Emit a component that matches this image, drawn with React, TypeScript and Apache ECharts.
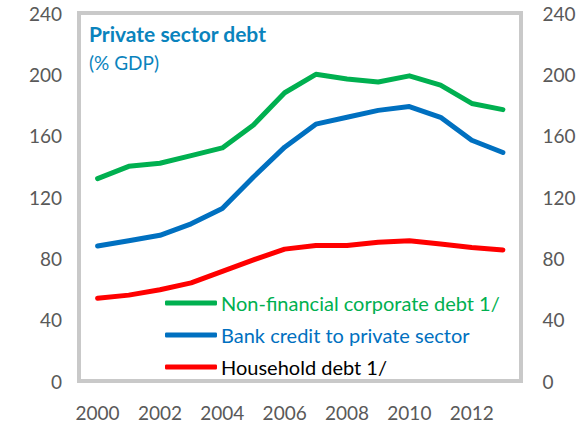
import React, { useEffect, useRef } from "react";
import * as echarts from "echarts";

const years = ["2000","2001","2002","2003","2004","2005","2006","2007","2008","2009","2010","2011","2012","2013"];
const nonFinCorp = [132, 140, 142, 147, 152, 167, 188, 200, 197, 195, 199, 193, 181, 177];
const bankCredit = [88, 91.5, 95, 102.5, 112.5, 133, 152.5, 167.5, 172, 176.5, 179, 172, 157, 149];
const household = [54, 56, 59.5, 64, 71.5, 79, 86, 88.3, 88.3, 90.5, 91.5, 89.4, 87, 85.5];
const yTicks = [0, 40, 80, 120, 160, 200, 240];

const FONT = "Lato";
const GREEN = "#00b050";
const BLUE = "#0070c0";
const RED = "#ff0000";
const TITLE = "#0a83bd";

export default function App() {
  const ref = useRef<HTMLDivElement>(null);
  useEffect(() => {
    if (!ref.current) return;
    const chart = echarts.init(ref.current, undefined, { renderer: "svg" });
    const yAxisBase = {
      type: "value" as const,
      min: yTicks[0],
      max: yTicks[yTicks.length - 1],
      interval: 40,
      axisLine: { show: false },
      axisTick: { show: false },
      splitLine: { show: false },
    };
    chart.setOption({
      animation: false,
      backgroundColor: "#ffffff",
      title: {
        text: "Private sector debt",
        subtext: "(% GDP)",
        left: 89,
        top: 22,
        padding: 0,
        itemGap: 8,
        textStyle: { fontFamily: FONT, fontSize: 21, fontWeight: "bold", color: TITLE, lineHeight: 22 },
        subtextStyle: { fontFamily: FONT, fontSize: 19, color: TITLE, lineHeight: 20 },
      },
      grid: { left: 82, right: 62.5, top: 13, bottom: 45, show: false },
      xAxis: {
        type: "category",
        data: years,
        boundaryGap: true,
        axisLine: { show: false },
        axisTick: { show: false },
        axisLabel: {
          interval: 1,
          margin: 22,
          fontFamily: FONT,
          fontSize: 19,
          color: "#595959",
        },
      },
      yAxis: [
        {
          ...yAxisBase,
          position: "left",
          axisLabel: { margin: 20, fontFamily: FONT, fontSize: 19, color: "#595959" },
        },
        {
          ...yAxisBase,
          position: "right",
          axisLabel: { margin: 24, fontFamily: FONT, fontSize: 19, color: "#595959" },
        },
      ],
      legend: {
        orient: "vertical",
        left: 165,
        top: 292,
        padding: 0,
        itemGap: 10,
        itemWidth: 52,
        itemHeight: 5,
        icon: "roundRect",
        textStyle: { fontFamily: FONT, fontSize: 20, lineHeight: 22, padding: [0, 0, 0, -1] },
        data: [
          { name: "Non-financial corporate debt 1/", textStyle: { color: GREEN } },
          { name: "Bank credit to private sector", textStyle: { color: BLUE } },
          { name: "Household debt 1/", textStyle: { color: "#000000" } },
        ],
      },
      graphic: [
        {
          type: "rect",
          shape: { x: 79, y: 13, width: 442, height: 368 },
          style: { fill: "none", stroke: "#c9c9c9", lineWidth: 4 },
          silent: true,
        },
      ],
      series: [
        {
          name: "Non-financial corporate debt 1/",
          type: "line",
          data: nonFinCorp,
          symbol: "none",
          lineStyle: { color: GREEN, width: 5, cap: "round", join: "round" },
          itemStyle: { color: GREEN },
        },
        {
          name: "Bank credit to private sector",
          type: "line",
          data: bankCredit,
          symbol: "none",
          lineStyle: { color: BLUE, width: 5, cap: "round", join: "round" },
          itemStyle: { color: BLUE },
        },
        {
          name: "Household debt 1/",
          type: "line",
          data: household,
          symbol: "none",
          lineStyle: { color: RED, width: 5, cap: "round", join: "round" },
          itemStyle: { color: RED },
        },
      ],
    });
    return () => chart.dispose();
  }, []);
  return (
    <div
      ref={ref}
      style={{ position: "fixed", left: 0, top: 0, width: 581, height: 426 }}
    />
  );
}
